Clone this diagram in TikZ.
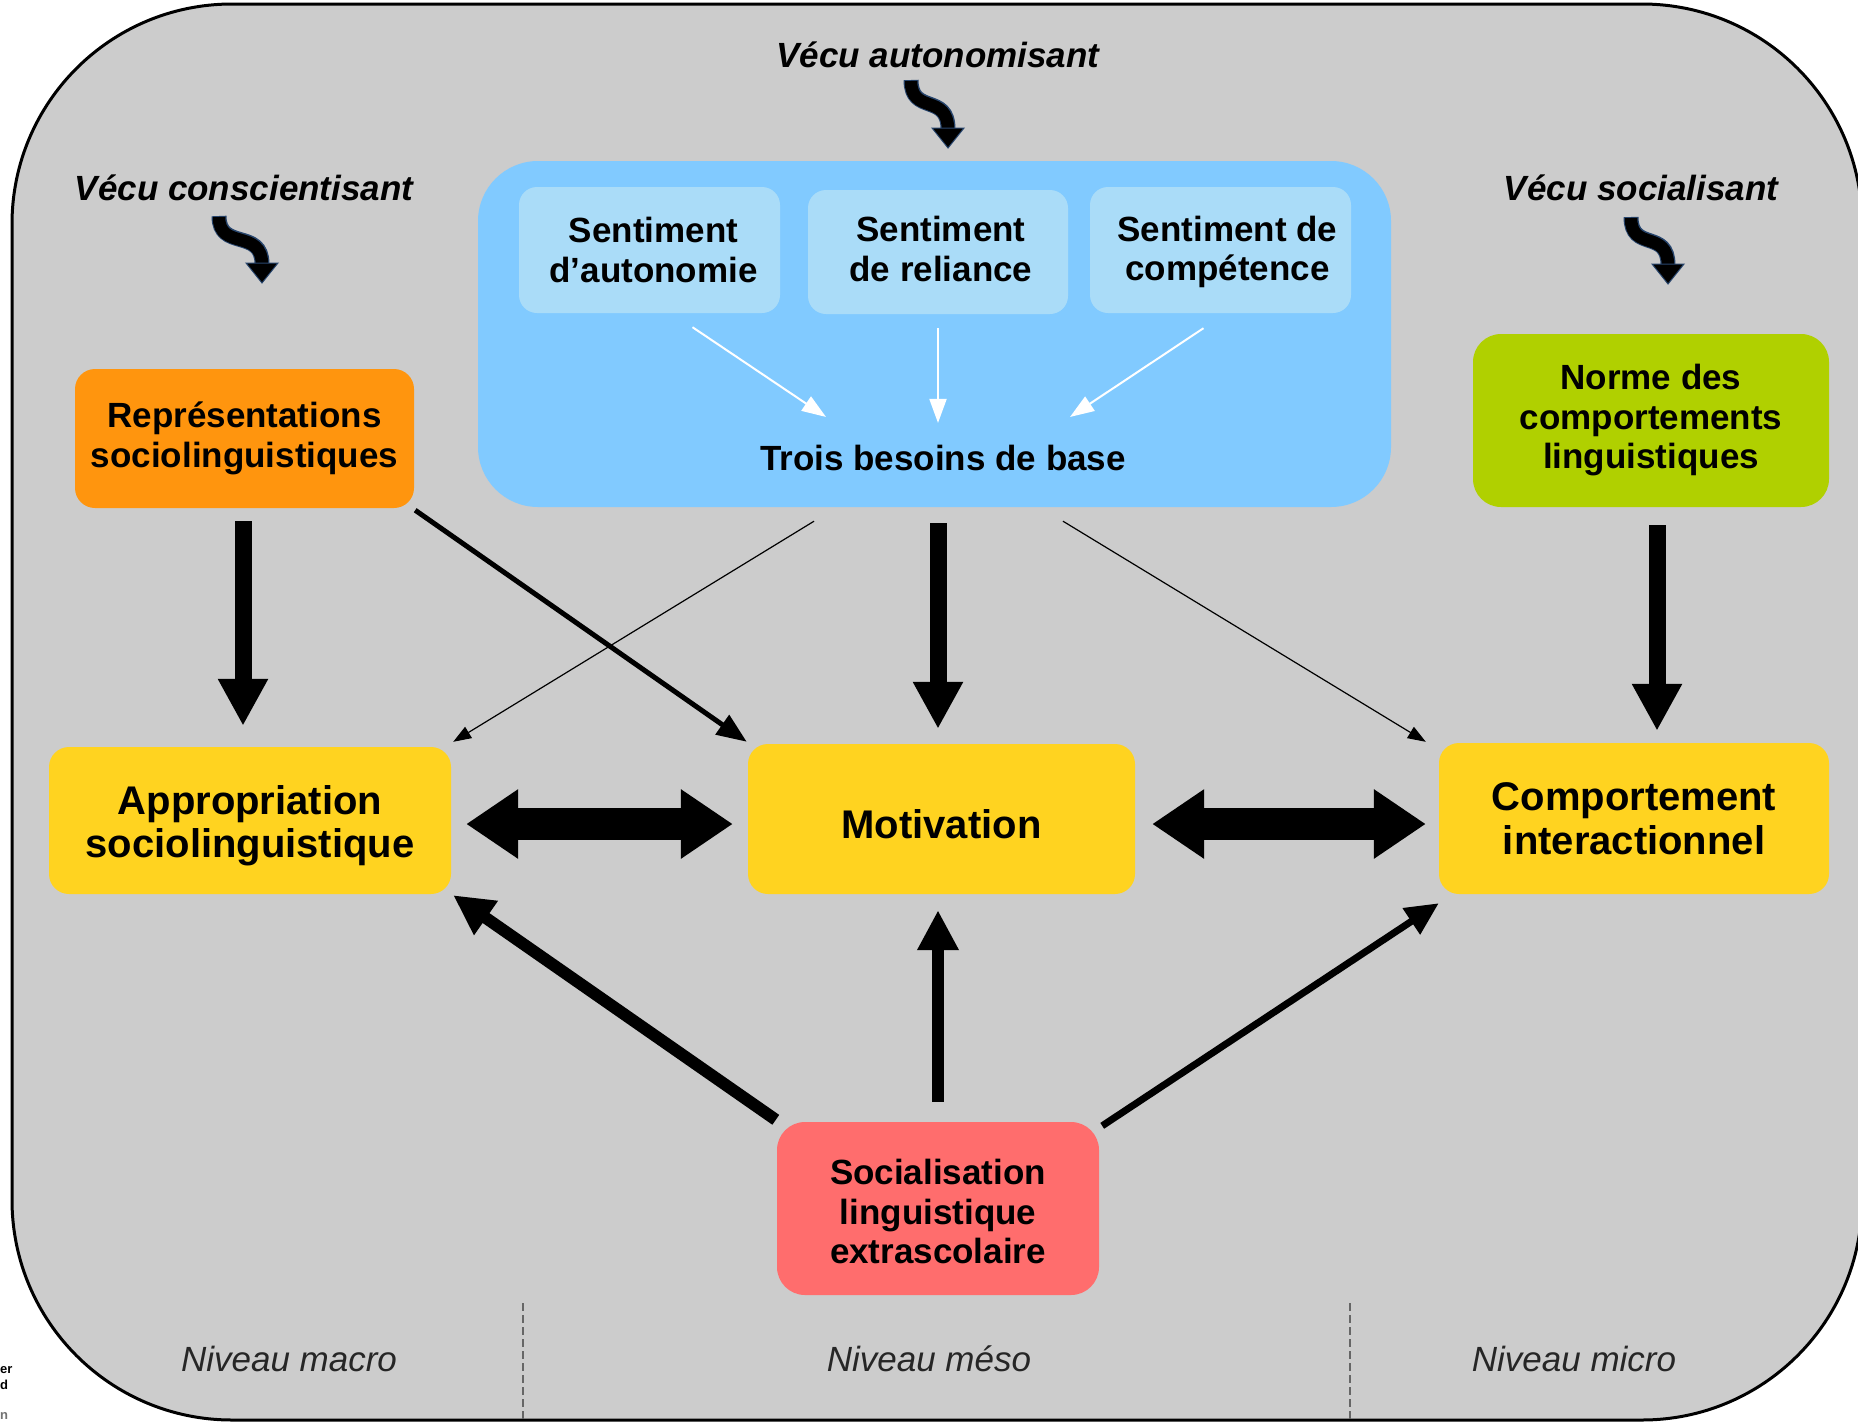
\documentclass[tikz,border=0pt]{standalone}
\usepackage{fontspec}
\setmainfont{Liberation Sans}
\usetikzlibrary{arrows.meta,calc}
\definecolor{bgc}{RGB}{204,204,204}
\definecolor{bluebig}{RGB}{129,202,255}
\definecolor{bluesmall}{RGB}{170,220,248}
\definecolor{orangec}{RGB}{255,149,14}
\definecolor{greenc}{RGB}{176,208,0}
\definecolor{yellowc}{RGB}{255,211,32}
\definecolor{redc}{RGB}{255,109,109}
\definecolor{curlyedge}{RGB}{40,70,110}
\newcommand\curlyarr[4]{%
  \draw[line width=15pt, curlyedge] (#1,#2) .. controls (#1,#2+35) and (#3,#4-55) .. (#3,#4-19);
  \draw[line width=12.5pt, black] (#1,#2+1) .. controls (#1,#2+35) and (#3,#4-55) .. (#3,#4-18);
  \filldraw[fill=black, draw=curlyedge, line width=1pt] (#3-16,#4-20) -- (#3+16,#4-20) -- (#3,#4) -- cycle;
}
\begin{document}
\begin{tikzpicture}[x=1pt,y=-1pt,
  box/.style={inner sep=0pt, rounded corners=20pt},
  txt/.style={inner sep=0pt, align=center, font=\fontsize{35}{39.5}\selectfont\bfseries},
  bigtxt/.style={inner sep=0pt, align=center, font=\fontsize{40}{43.5}\selectfont\bfseries},
  small/.style={box, fill=bluesmall, rounded corners=18pt, minimum width=261pt, minimum height=126pt},
  title/.style={inner sep=0pt, font=\fontsize{35}{40}\selectfont\bfseries\itshape},
  level/.style={inner sep=0pt, text=black!85, font=\fontsize{35}{40}\selectfont\itshape},
  frag/.style={inner sep=0pt, font=\fontsize{13}{13}\selectfont\bfseries},
  thickv/.style={line width=17pt, -{Triangle[length=47pt,width=47pt]}},
  thickm/.style={line width=12pt, -{Triangle[length=40pt,width=39pt]}},
  thin/.style={line width=7pt, -{Triangle[length=33pt,width=30pt]}},
  thinner/.style={line width=5pt, -{Triangle[length=30pt,width=23pt]}},
  hair/.style={line width=1.2pt, -{Triangle[length=18pt,width=13pt]}},
  dbl/.style={line width=32pt, {Triangle[length=52pt,width=66pt]}-{Triangle[length=52pt,width=66pt]}},
  warrow/.style={draw=white, line width=2pt, -{Triangle[length=24pt,width=17pt]}},
]
\useasboundingbox (0,0) rectangle (1858,1422);
\clip (0,0) rectangle (1858,1422);
\fill[white] (0,0) rectangle (1858,1422);
% background frame
\draw[fill=bgc, line width=3pt, rounded corners=220pt] (12,4) rectangle (1862,1420);

% fragments at bottom left
\node[frag, anchor=base west] (fr1) at (0,1373) {er};
\node[frag, anchor=base west] (fr2) at (0,1389) {d};
\node[frag, anchor=base west, text=black!55] (fr3) at (0,1419) {n};

% blue group
\node[box, fill=bluebig, rounded corners=60pt, minimum width=913pt, minimum height=346pt] (blue) at (934.5,334) {};
\node[small] (s1) at (649.5,250) {};
\node[small, minimum width=260pt, minimum height=124pt] (s2) at (938,252) {};
\node[small] (s3) at (1220.5,250) {};
\node[txt] (s1t) at ($(s1.center)+(4,0)$) {Sentiment\\d’autonomie};
\node[txt] (s2t) at ($(s2.center)+(3,-3)$) {Sentiment\\de reliance};
\node[txt] (s3t) at ($(s3.center)+(7,2)$) {Sentiment de\\compétence};
\node[txt] (trois) at (943,458) {Trois besoins de base};

\draw[warrow] ($(s1.south)+(43,14)$) -- ($(trois.north)+(-117,-28)$);
\draw[warrow] ($(s2.south)+(0,14)$) -- ($(trois.north)+(-5,-22)$);
\draw[warrow] ($(s3.south)+(-17,15)$) -- ($(trois.north)+(127,-28)$);

% side boxes
\node[box, fill=orangec, minimum width=339pt, minimum height=139pt] (rep) at (244.5,438.5) {};
\node[txt] (rept) at (rep.center) {Représentations\\sociolinguistiques};
\node[box, fill=greenc, rounded corners=28pt, minimum width=356pt, minimum height=173pt] (norme) at (1651,420.5) {};
\node[txt] (normet) at (norme.center) {Norme des\\comportements\\linguistiques};

% middle row
\node[box, fill=yellowc, minimum width=402pt, minimum height=147pt] (appr) at (250,820.5) {};
\node[bigtxt] (apprt) at ($(appr.center)+(0,5)$) {Appropriation\\sociolinguistique};
\node[box, fill=yellowc, minimum width=387pt, minimum height=150pt] (motiv) at (941.5,819) {};
\node[bigtxt] (motivt) at ($(motiv.center)+(0,5)$) {Motivation};
\node[box, fill=yellowc, minimum width=390pt, minimum height=151pt] (comp) at (1634,818.5) {};
\node[bigtxt] (compt) at (comp.center) {Comportement\\interactionnel};

% bottom
\node[box, fill=redc, rounded corners=28pt, minimum width=322pt, minimum height=173pt] (soc) at (938,1208.5) {};
\node[txt] (soct) at ($(soc.center)+(0,3)$) {Socialisation\\linguistique\\extrascolaire};

% titles
\node[title] (va) at (938,55) {Vécu autonomisant};
\node[title] (vc) at (244,188) {Vécu conscientisant};
\node[title] (vs) at (1641,188) {Vécu socialisant};
\curlyarr{911}{80}{948}{148}
\curlyarr{219}{216}{262}{283}
\curlyarr{1631}{217}{1668}{284}

% levels
\node[level] (nmac) at (289,1359) {Niveau macro};
\node[level] (nmes) at (929,1359) {Niveau méso};
\node[level] (nmic) at (1574,1359) {Niveau micro};
\coordinate (d1a) at (523,1303); \coordinate (d1b) at (523,1424);
\coordinate (d2a) at (1350,1303); \coordinate (d2b) at (1350,1424);
\draw[black!60, line width=2.2pt, dash pattern=on 8pt off 4pt] (d1a) -- (d1b);
\draw[black!60, line width=2.2pt, dash pattern=on 8pt off 4pt] (d2a) -- (d2b);

% vertical thick arrows
\draw[thickv] ($(rep.south)+(-1.5,13)$) -- ($(rep.south |- appr.north)+(-1.5,-21)$);
\draw[thickv] ($(blue.south)+(3.5,16)$) -- ($(blue.south |- motiv.north)+(3.5,-15)$);
\draw[thickv] ($(norme.south)+(6,18)$) -- ($(norme.south |- comp.north)+(6,-12)$);

% from socialisation
\draw[thickm] ($(soc.north)+(0,-20)$) -- ($(soc.north |- motiv.south)+(0,16)$);
\draw[thickm] ($(soc.north west)+(-1,-2)$) -- ($(appr.south east)+(2,1)$);
\draw[thin] ($(soc.north east)+(3,4)$) -- ($(comp.south west)+(0,9)$);

% diagonal from representations
\draw[thinner] ($(rep.south east)+(1,2)$) -- ($(motiv.north west)+(-1,-2)$);

% thin lines from blue box
\draw[hair] ($(blue.south)+(-120.5,14)$) -- ($(appr.north east)+(2,-5)$);
\draw[hair] ($(blue.south)+(128.5,14)$) -- ($(comp.north west)+(-13,-1)$);

% double arrows
\draw[dbl] ($(appr.east)+(15,3.5)$) -- ($(motiv.west)+(-15,5)$);
\draw[dbl] ($(motiv.east)+(17,5)$) -- ($(comp.west)+(-13,5.5)$);
\end{tikzpicture}
\end{document}
